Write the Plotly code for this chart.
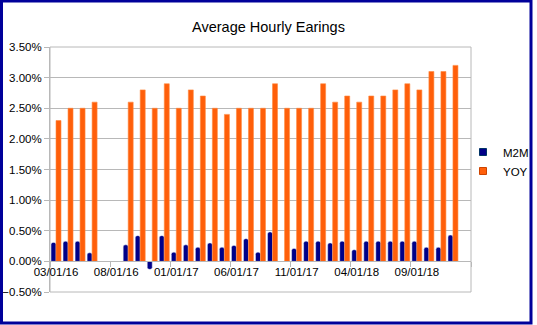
import plotly.graph_objects as go

categories = ["03/01/16", "04/01/16", "05/01/16", "06/01/16", "07/01/16", "08/01/16",
              "09/01/16", "10/01/16", "11/01/16", "12/01/16", "01/01/17", "02/01/17",
              "03/01/17", "04/01/17", "05/01/17", "06/01/17", "07/01/17", "08/01/17",
              "09/01/17", "10/01/17", "11/01/17", "12/01/17", "01/01/18", "02/01/18",
              "03/01/18", "04/01/18", "05/01/18", "06/01/18", "07/01/18", "08/01/18",
              "09/01/18", "10/01/18", "11/01/18", "12/01/18", "01/01/19"]

m2m = [0.0031, 0.0033, 0.0033, 0.0014, None, None,
       0.0027, 0.0042, -0.0013, 0.0042, 0.0015, 0.0027,
       0.0023, 0.0030, 0.0023, 0.0026, 0.0037, 0.0015,
       0.0048, None, 0.0021, 0.0033, 0.0033, 0.0030,
       0.0033, 0.0019, 0.0033, 0.0033, 0.0033, 0.0033,
       0.0033, 0.0023, 0.0023, 0.0043, None]

yoy = [0.023, 0.025, 0.025, 0.026, None, None,
       0.026, 0.028, 0.025, 0.029, 0.025, 0.028,
       0.027, 0.025, 0.024, 0.025, 0.025, 0.025,
       0.029, 0.025, 0.025, 0.025, 0.029, 0.026,
       0.027, 0.026, 0.027, 0.027, 0.028, 0.029,
       0.028, 0.031, 0.031, 0.032, None]

NAVY = "#000088"
ORANGE = "#ff5f0a"
GRID = "#b8b8b8"
FONT = "Liberation Sans, Arial, sans-serif"

W, H = 537, 325
ML, MR, MT, MB = 50, 66, 47, 33
PW, PH = W - ML - MR, H - MT - MB


def px_x(px):
    return (px - ML) / PW


def px_y(py):
    return 1 - (py - MT) / PH


fig = go.Figure()
fig.add_trace(go.Bar(x=categories, y=m2m, name="M2M", marker=dict(color=NAVY, cornerradius=2),
                     showlegend=False))
fig.add_trace(go.Bar(x=categories, y=yoy, name="YOY",
                     marker=dict(color=ORANGE, line=dict(color="#ff8a40", width=0.6)),
                     showlegend=False))
# legend entries (small square keys)
fig.add_trace(go.Scatter(x=[None], y=[None], mode="markers", name="M2M",
                         marker=dict(symbol="square", size=7, color=NAVY,
                                     line=dict(color="#003366", width=1))))
fig.add_trace(go.Scatter(x=[None], y=[None], mode="markers", name="YOY",
                         marker=dict(symbol="square", size=7, color=ORANGE,
                                     line=dict(color="#cc4400", width=1))))

ymin, ymax = -0.005, 0.035

fig.update_layout(
    width=W, height=H,
    margin=dict(l=ML, r=MR, t=MT, b=MB, pad=0, autoexpand=False),
    paper_bgcolor="white", plot_bgcolor="white",
    barmode="group", bargap=0.17, bargroupgap=0,
    font=dict(family=FONT, size=11.5, color="black"),
    title=dict(text="Average Hourly Earings", x=0.5, xref="container", xanchor="center",
               y=1 - 27 / H, yref="container", yanchor="middle",
               font=dict(family=FONT, size=14.5, color="black")),
    legend=dict(x=px_x(463), y=px_y(137.5), xanchor="left", yanchor="top",
                font=dict(family=FONT, size=11.5, color="black"),
                bgcolor="rgba(0,0,0,0)", tracegroupgap=0),
    xaxis=dict(type="category", anchor="free",
               position=(0 - ymin) / (ymax - ymin),
               tickmode="linear", tick0=0, dtick=5, tickson="boundaries",
               tickangle=0,
               ticks="outside", ticklen=5, tickcolor=GRID,
               showline=True, linecolor=GRID, linewidth=1,
               showgrid=False, zeroline=False,
               tickfont=dict(family=FONT, size=11.5, color="black"),
               range=[-0.5, len(categories) - 0.5]),
    yaxis=dict(range=[ymin, ymax], dtick=0.005, tickformat=".2%",
               ticks="outside", ticklen=5, tickcolor=GRID,
               showline=True, linecolor=GRID, gridcolor=GRID, gridwidth=1,
               zeroline=False,
               tickfont=dict(family=FONT, size=11.5, color="black")),
    shapes=[
        dict(type="rect", xref="paper", yref="paper", x0=0, x1=1, y0=0, y1=1,
             line=dict(color=GRID, width=1), layer="below"),
        dict(type="rect", xref="paper", yref="paper",
             x0=px_x(1.5), x1=px_x(531), y0=px_y(323), y1=px_y(1),
             line=dict(color="#00009a", width=3)),
    ],
)

fig.write_html("out.html")
